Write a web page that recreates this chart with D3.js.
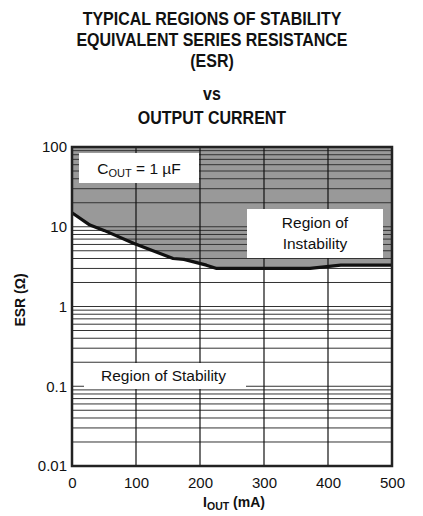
<!DOCTYPE html>
<html><head><meta charset="utf-8">
<script src="https://cdn.jsdelivr.net/npm/d3@7/dist/d3.min.js"></script>
<style>
html,body{margin:0;padding:0;background:#fff;}
svg{display:block;font-family:"Liberation Sans",Arial,Helvetica,sans-serif;}
</style></head>
<body>
<svg id="chart" width="423" height="516"></svg>
<script>
// Data
const currents = [0, 28, 50, 96, 158, 175, 210, 226, 372, 420, 500];      // I_OUT (mA)
const esrBoundary = [15, 10.5, 9.0, 6.2, 4.0, 3.9, 3.3, 3.0, 3.0, 3.3, 3.3]; // ESR (Ω)
const xTicks = [0, 100, 200, 300, 400, 500];
const yTicks = [0.01, 0.1, 1, 10, 100];
const yTickLabels = ["0.01", "0.1", "1", "10", "100"];
const titleLines = ["TYPICAL REGIONS OF STABILITY", "EQUIVALENT SERIES RESISTANCE", "(ESR)", "vs", "OUTPUT CURRENT"];

const svg = d3.select("#chart");
const L = 72, R = 392, T = 147, B = 466;
const x = d3.scaleLinear().domain([0, 500]).range([L, R]);
const y = d3.scaleLog().domain([0.01, 100]).range([B, T]);

// Title
const titleY = [25, 46, 67, 100, 124];
svg.append("g").selectAll("text").data(titleLines).join("text")
  .attr("x", 212).attr("y", (d, i) => titleY[i])
  .attr("text-anchor", "middle").attr("font-weight", "bold").attr("font-size", 16)
  .attr("transform", (d, i) => `translate(0,${titleY[i]}) scale(1,1.1) translate(0,${-titleY[i]})`)
  .attr("fill", "#111").text(d => d);

// Shaded instability region
const pts = currents.map((c, i) => [c, esrBoundary[i]]);
const area = d3.area().x(d => x(d[0])).y0(y(100)).y1(d => y(d[1]));
svg.append("path").datum(pts).attr("d", area).attr("fill", "#999999");

// Grid
const gridVals = y.ticks().filter(v => v > 0.01 && v < 100);
svg.append("g").selectAll("line").data(gridVals).join("line")
  .attr("x1", L).attr("x2", R).attr("y1", d => y(d)).attr("y2", d => y(d))
  .attr("stroke", "#333").attr("stroke-width", 1);
svg.append("g").selectAll("line").data(xTicks.slice(1, -1)).join("line")
  .attr("x1", d => x(d)).attr("x2", d => x(d)).attr("y1", T).attr("y2", B)
  .attr("stroke", "#111").attr("stroke-width", 1.2);

// Boundary curve
const line = d3.line().x(d => x(d[0])).y(d => y(d[1]));
svg.append("path").datum(pts).attr("d", line).attr("fill", "none")
  .attr("stroke", "#111").attr("stroke-width", 3.2).attr("stroke-linejoin", "round");

// Label boxes
svg.append("rect").attr("x", 79).attr("y", 153).attr("width", 120).attr("height", 30).attr("fill", "#fff");
const c = svg.append("text").attr("x", 139).attr("y", 174).attr("text-anchor", "middle")
  .attr("font-size", 15.5).attr("fill", "#111");
c.append("tspan").text("C");
c.append("tspan").attr("font-size", 11).attr("dy", 3).text("OUT");
c.append("tspan").attr("dy", -3).text(" = 1 \u00B5F");

svg.append("rect").attr("x", 247).attr("y", 209).attr("width", 136).attr("height", 49).attr("fill", "#fff");
svg.append("text").attr("x", 315).attr("y", 228).attr("text-anchor", "middle")
  .attr("font-size", 15.5).attr("fill", "#111").text("Region of");
svg.append("text").attr("x", 315).attr("y", 249).attr("text-anchor", "middle")
  .attr("font-size", 15.5).attr("fill", "#111").text("Instability");

svg.append("rect").attr("x", 84).attr("y", 363).attr("width", 162).attr("height", 26).attr("fill", "#fff");
svg.append("text").attr("x", 101).attr("y", 381)
  .attr("font-size", 15.5).attr("fill", "#111").text("Region of Stability");

// Frame
svg.append("rect").attr("x", L).attr("y", T).attr("width", R - L).attr("height", B - T)
  .attr("fill", "none").attr("stroke", "#222").attr("stroke-width", 2.5);

// Axes
const yAxis = d3.axisLeft(y).tickValues(yTicks).tickFormat((d, i) => yTickLabels[i]).tickSize(0).tickPadding(5);
const gy = svg.append("g").attr("transform", `translate(${L},0)`).call(yAxis);
gy.select(".domain").remove();
gy.selectAll("text").attr("font-size", 15).attr("fill", "#111").attr("font-family", null);

const xAxis = d3.axisBottom(x).tickValues(xTicks).tickFormat(d3.format("d")).tickSize(0).tickPadding(11);
const gx = svg.append("g").attr("transform", `translate(0,${B})`).call(xAxis);
gx.select(".domain").remove();
gx.selectAll("text").attr("font-size", 15).attr("fill", "#111").attr("font-family", null);

// Axis titles
const xl = svg.append("text").attr("x", 234).attr("y", 507).attr("text-anchor", "middle")
  .attr("font-weight", "bold").attr("font-size", 14).attr("fill", "#111");
xl.append("tspan").text("I");
xl.append("tspan").attr("font-size", 10.5).attr("dy", 3).text("OUT");
xl.append("tspan").attr("dy", -3).text(" (mA)");

svg.append("text").attr("transform", "translate(25,300) rotate(-90)").attr("text-anchor", "middle")
  .attr("font-weight", "bold").attr("font-size", 14).attr("fill", "#111").text("ESR (\u03A9)");
</script>
</body></html>
